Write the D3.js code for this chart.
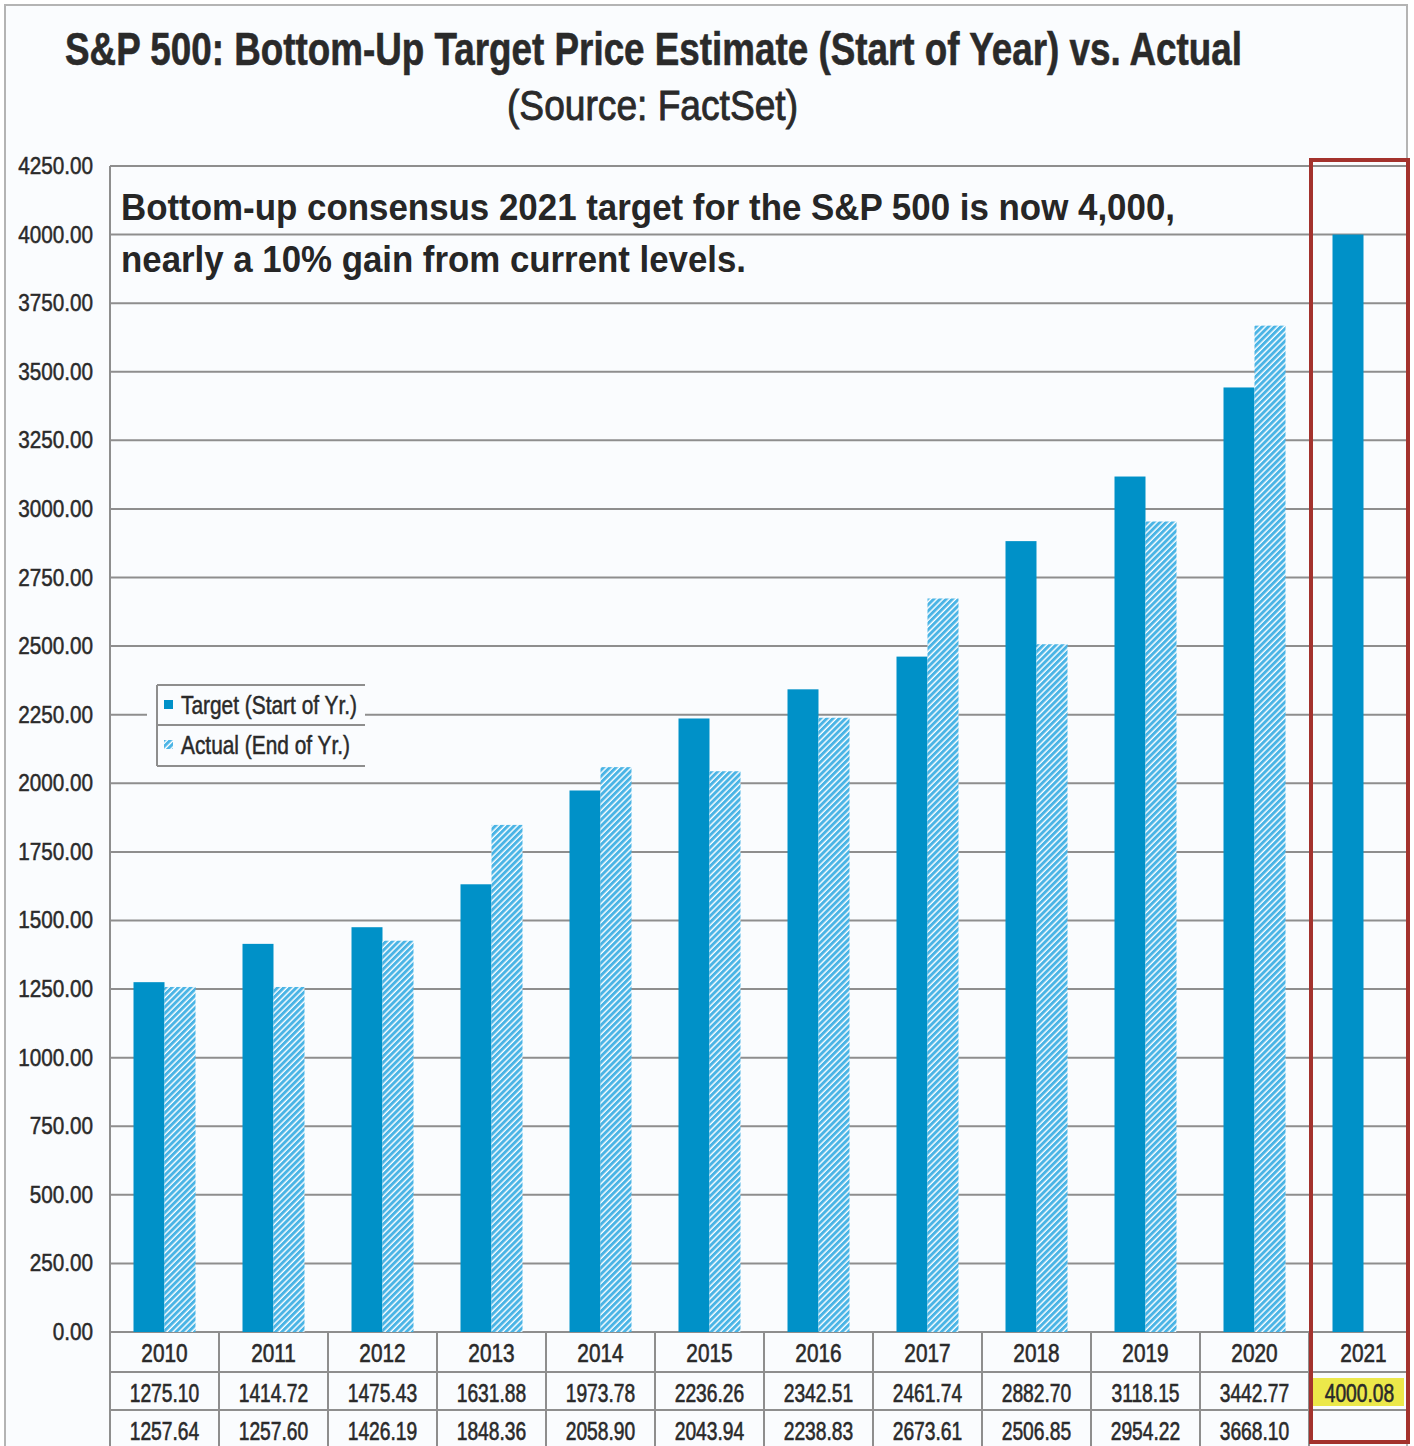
<!DOCTYPE html>
<html>
<head>
<meta charset="utf-8">
<script src="https://cdn.jsdelivr.net/npm/d3@7"></script>
<style>
  html, body { margin: 0; padding: 0; background: #ffffff; }
  svg { display: block; }
</style>
</head>
<body>
<script>
// ---------------- DATA ----------------
const years = ["2010","2011","2012","2013","2014","2015","2016","2017","2018","2019","2020","2021"];
const targetValues = [1275.10,1414.72,1475.43,1631.88,1973.78,2236.26,2342.51,2461.74,2882.70,3118.15,3442.77,4000.08];
const actualValues = [1257.64,1257.60,1426.19,1848.36,2058.90,2043.94,2238.83,2673.61,2506.85,2954.22,3668.10,null];
const yTicks = [0,250,500,750,1000,1250,1500,1750,2000,2250,2500,2750,3000,3250,3500,3750,4000,4250];
const seriesNames = ["Target (Start of Yr.)", "Actual (End of Yr.)"];
const titleText = "S&P 500: Bottom-Up Target Price Estimate (Start of Year) vs. Actual";
const subtitleText = "(Source: FactSet)";
const noteLines = ["Bottom-up consensus 2021 target for the S&P 500 is now 4,000,",
                   "nearly a 10% gain from current levels."];
const highlightYear = "2021";

// ---------------- LAYOUT ----------------
const W = 1414, H = 1446;
const plotL = 110, plotTop = 166, plotBottom = 1332, plotRight = 1410;
const bandW = 109;
const rowY = [1332, 1372, 1410, 1448];
const blue = "#0091c8", hatchBlue = "#4ab4e5", gridC = "#8e8e8e", textC = "#2a2a2a";
const bg = "#fafcfe";

const svg = d3.select("body").append("svg").attr("width", W).attr("height", H);
const defs = svg.append("defs");
const pat = defs.append("pattern").attr("id","hatch").attr("patternUnits","userSpaceOnUse")
  .attr("width",4.4).attr("height",4.4).attr("patternTransform","rotate(45)");
pat.append("rect").attr("width",4.4).attr("height",4.4).attr("fill","#ffffff");
pat.append("rect").attr("width",3.0).attr("height",4.4).attr("fill",hatchBlue);

// outer frame
svg.append("rect").attr("x",0).attr("y",0).attr("width",W).attr("height",H).attr("fill","#ffffff");
svg.append("rect").attr("x",5).attr("y",5).attr("width",1402).attr("height",1460)
  .attr("fill",bg).attr("stroke","#b4b4b4").attr("stroke-width",2);

// scales
const x = d3.scaleBand().domain(years).range([plotL, plotL + bandW*years.length]).paddingInner(0).paddingOuter(0);
const x1 = d3.scaleBand().domain(["target","actual"]).range([0, x.bandwidth()]).paddingInner(0).paddingOuter(0.758);
const y = d3.scaleLinear().domain([0, 4250]).range([plotBottom, plotTop]);

function condense(sel, ratio) {
  sel.each(function() {
    const w = this.getComputedTextLength();
    d3.select(this).attr("textLength", w*ratio).attr("lengthAdjust","spacingAndGlyphs");
  });
}
function fitTo(sel, width) {
  sel.attr("textLength", width).attr("lengthAdjust","spacingAndGlyphs");
}

// gridlines
svg.append("g").selectAll("line").data(yTicks).join("line")
  .attr("x1", plotL).attr("x2", plotRight)
  .attr("y1", d => y(d)).attr("y2", d => y(d))
  .attr("stroke", gridC).attr("stroke-width", 2);

// y axis line (continues through table)
svg.append("line").attr("x1",plotL).attr("x2",plotL).attr("y1",plotTop).attr("y2",H)
  .attr("stroke",gridC).attr("stroke-width",2);

// y tick labels
const fmt = d3.format(".2f");
svg.append("g").selectAll("text").data(yTicks).join("text")
  .attr("x", 93).attr("y", d => y(d) + 8)
  .attr("text-anchor","end")
  .attr("font-family","'Liberation Sans', Arial, sans-serif")
  .attr("font-size", 23).attr("fill", textC)
  .attr("stroke", textC).attr("stroke-width", 0.5)
  .text(d => fmt(d))
  .call(condense, 0.9);

// bars
const barData = years.map((yr, i) => ({year: yr, target: targetValues[i], actual: actualValues[i]}));
const gBars = svg.append("g");
gBars.selectAll("rect.t").data(barData).join("rect").attr("class","t")
  .attr("x", d => x(d.year) + x1("target"))
  .attr("width", x1.bandwidth())
  .attr("y", d => y(d.target))
  .attr("height", d => y(0) - y(d.target))
  .attr("fill", blue);
gBars.selectAll("rect.a").data(barData.filter(d => d.actual != null)).join("rect").attr("class","a")
  .attr("x", d => x(d.year) + x1("actual"))
  .attr("width", x1.bandwidth())
  .attr("y", d => y(d.actual))
  .attr("height", d => y(0) - y(d.actual))
  .attr("fill", "url(#hatch)");

// data table
const gT = svg.append("g");
gT.selectAll("line.h").data(rowY.slice(1,3)).join("line").attr("class","h")
  .attr("x1", plotL).attr("x2", plotRight).attr("y1", d => d).attr("y2", d => d)
  .attr("stroke", gridC).attr("stroke-width", 2);
gT.selectAll("line.v").data(years.slice(1)).join("line").attr("class","v")
  .attr("x1", d => x(d)).attr("x2", d => x(d)).attr("y1", rowY[0]).attr("y2", H)
  .attr("stroke", gridC).attr("stroke-width", 2);
// highlight cell
gT.append("rect")
  .attr("x", x(highlightYear) + 4).attr("width", x.bandwidth() - 18)
  .attr("y", rowY[1] + 6).attr("height", rowY[2] - rowY[1] - 10)
  .attr("fill", "#ece84a");

const tblFont = "'Liberation Sans', Arial, sans-serif";
const rows = [years, targetValues.map(v => fmt(v)), actualValues.map(v => v == null ? "" : fmt(v))];
rows.forEach((row, r) => {
  gT.append("g").selectAll("text").data(row.map((t, i) => ({t, yr: years[i]}))).join("text")
    .attr("x", d => x(d.yr) + x.bandwidth()/2 - (d.yr === highlightYear && r === 1 ? 4 : 0))
    .attr("y", rowY[r] + 30)
    .attr("text-anchor","middle")
    .attr("font-family", tblFont).attr("font-size", 26).attr("fill", textC)
    .attr("stroke", textC).attr("stroke-width", 0.6)
    .text(d => d.t)
    .call(condense, r === 0 ? 0.8 : 0.74);
});

// legend
const lg = svg.append("g");
lg.append("rect").attr("x",147).attr("y",685).attr("width",218).attr("height",81).attr("fill",bg);
[685, 725, 766].forEach(yy => lg.append("line").attr("x1",157).attr("x2",365).attr("y1",yy).attr("y2",yy)
  .attr("stroke",gridC).attr("stroke-width",2));
lg.append("line").attr("x1",157).attr("x2",157).attr("y1",685).attr("y2",766).attr("stroke",gridC).attr("stroke-width",2);
lg.append("rect").attr("x",164).attr("y",700).attr("width",9).attr("height",9).attr("fill",blue);
lg.append("rect").attr("x",164).attr("y",740).attr("width",9).attr("height",9).attr("fill","url(#hatch)");
const lgWidths = [176, 169];
seriesNames.forEach((s, i) => {
  lg.append("text").attr("x",181).attr("y", 714 + i*40)
    .attr("font-family", tblFont).attr("font-size", 26).attr("fill", textC)
    .attr("stroke", textC).attr("stroke-width", 0.5)
    .text(s).call(fitTo, lgWidths[i]);
});

// annotation
noteLines.forEach((s, i) => {
  svg.append("text").attr("x",121).attr("y", 220 + i*52)
    .attr("font-family","'Liberation Sans', Arial, sans-serif").attr("font-weight","bold")
    .attr("font-size", 37).attr("fill", "#262626")
    .text(s).call(fitTo, i === 0 ? 1054 : 625);
});

// title
svg.append("text").attr("x", 653.5).attr("y", 65).attr("text-anchor","middle")
  .attr("font-family","'Liberation Sans', Arial, sans-serif").attr("font-weight","bold")
  .attr("font-size", 46).attr("fill", "#2a2a2a")
  .attr("stroke", "#2a2a2a").attr("stroke-width", 0.6)
  .text(titleText).call(fitTo, 1177);
svg.append("text").attr("x", 652.5).attr("y", 120).attr("text-anchor","middle")
  .attr("font-family","'Liberation Sans', Arial, sans-serif")
  .attr("font-size", 42).attr("fill", "#2a2a2a")
  .attr("stroke", "#2a2a2a").attr("stroke-width", 0.9)
  .text(subtitleText).call(fitTo, 291);

// red highlight box
svg.append("rect").attr("x", x(highlightYear) + 2).attr("y", 160)
  .attr("width", 1408 - x(highlightYear) - 2).attr("height", 1282)
  .attr("fill","none").attr("stroke","#a3322d").attr("stroke-width",4);
</script>
</body>
</html>
